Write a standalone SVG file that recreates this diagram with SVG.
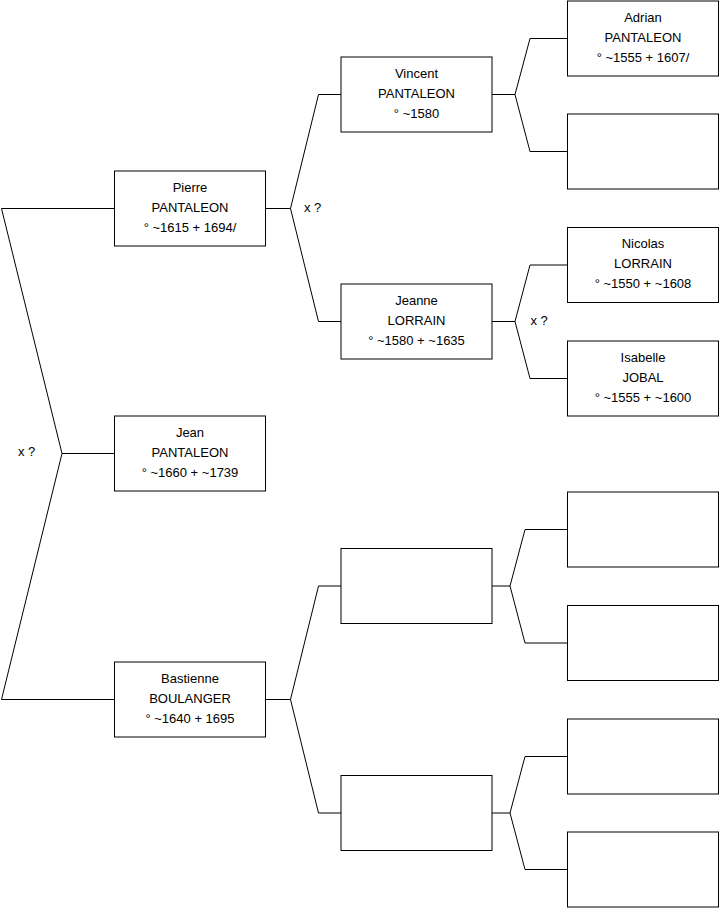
<svg xmlns="http://www.w3.org/2000/svg" width="719" height="908" viewBox="0 0 719 908">
<style>
.box{fill:#fff;stroke:#000;stroke-width:1}
.t{font-family:"Liberation Sans",Arial,sans-serif;font-size:13px;fill:#000;text-anchor:middle}
.l{font-family:"Liberation Sans",Arial,sans-serif;font-size:13px;fill:#000}
.c{fill:none;stroke:#000;stroke-width:1}
</style>
<rect width="719" height="908" fill="#fff"/>
<g id="connectors">
<path class="c" d="M114.5 453.5 H62 L1.5 208.5 H114.5 M62 453.5 L1.5 699.5 H114.5"/>
<path class="c" d="M265.5 208.5 H290.5 L318.5 94.5 H341 M290.5 208.5 L318.5 321.5 H341"/>
<path class="c" d="M492 94.5 H515 L530 38.5 H567.5 M515 94.5 L530 151.5 H567.5"/>
<path class="c" d="M492 321.5 H515 L530 265 H567.5 M515 321.5 L530 378.5 H567.5"/>
<path class="c" d="M265.5 699.5 H290.5 L318.5 586 H341 M290.5 699.5 L318.5 813 H341"/>
<path class="c" d="M492 586 H510 L525 529.5 H567.5 M510 586 L525 643 H567.5"/>
<path class="c" d="M492 813 H510 L525 756.5 H567.5 M510 813 L525 869.5 H567.5"/>
<text class="l" x="18" y="456">x ?</text>
<text class="l" x="304" y="211.5">x ?</text>
<text class="l" x="530.5" y="324.5">x ?</text>
</g>
<g id="jean">
<rect class="box" x="114.5" y="416" width="151" height="75"/>
<text class="t" x="190" y="436.5">Jean</text>
<text class="t" x="190" y="456.5">PANTALEON</text>
<text class="t" x="190" y="476.5">° ~1660 + ~1739</text>
</g>
<g id="pierre">
<rect class="box" x="114.5" y="171" width="151" height="75"/>
<text class="t" x="190" y="191.5">Pierre</text>
<text class="t" x="190" y="211.5">PANTALEON</text>
<text class="t" x="190" y="231.5">° ~1615 + 1694/</text>
</g>
<g id="bastienne">
<rect class="box" x="114.5" y="662" width="151" height="75"/>
<text class="t" x="190" y="682.5">Bastienne</text>
<text class="t" x="190" y="702.5">BOULANGER</text>
<text class="t" x="190" y="722.5">° ~1640 + 1695</text>
</g>
<g id="vincent">
<rect class="box" x="341" y="57" width="151" height="75"/>
<text class="t" x="416.5" y="77.5">Vincent</text>
<text class="t" x="416.5" y="97.5">PANTALEON</text>
<text class="t" x="416.5" y="117.5">° ~1580</text>
</g>
<g id="jeanne">
<rect class="box" x="341" y="284" width="151" height="75"/>
<text class="t" x="416.5" y="304.5">Jeanne</text>
<text class="t" x="416.5" y="324.5">LORRAIN</text>
<text class="t" x="416.5" y="344.5">° ~1580 + ~1635</text>
</g>
<g id="father-bastienne">
<rect class="box" x="341" y="548.5" width="151" height="75"/>
</g>
<g id="mother-bastienne">
<rect class="box" x="341" y="775.5" width="151" height="75"/>
</g>
<g id="adrian">
<rect class="box" x="567.5" y="1" width="151" height="75"/>
<text class="t" x="643" y="21.5">Adrian</text>
<text class="t" x="643" y="41.5">PANTALEON</text>
<text class="t" x="643" y="61.5">° ~1555 + 1607/</text>
</g>
<g id="mother-vincent">
<rect class="box" x="567.5" y="114" width="151" height="75"/>
</g>
<g id="nicolas">
<rect class="box" x="567.5" y="227.5" width="151" height="75"/>
<text class="t" x="643" y="248">Nicolas</text>
<text class="t" x="643" y="268">LORRAIN</text>
<text class="t" x="643" y="288">° ~1550 + ~1608</text>
</g>
<g id="isabelle">
<rect class="box" x="567.5" y="341" width="151" height="75"/>
<text class="t" x="643" y="361.5">Isabelle</text>
<text class="t" x="643" y="381.5">JOBAL</text>
<text class="t" x="643" y="401.5">° ~1555 + ~1600</text>
</g>
<g id="gf-a"><rect class="box" x="567.5" y="492" width="151" height="75"/></g>
<g id="gm-a"><rect class="box" x="567.5" y="605.5" width="151" height="75"/></g>
<g id="gf-b"><rect class="box" x="567.5" y="719" width="151" height="75"/></g>
<g id="gm-b"><rect class="box" x="567.5" y="832" width="151" height="75"/></g>
</svg>
